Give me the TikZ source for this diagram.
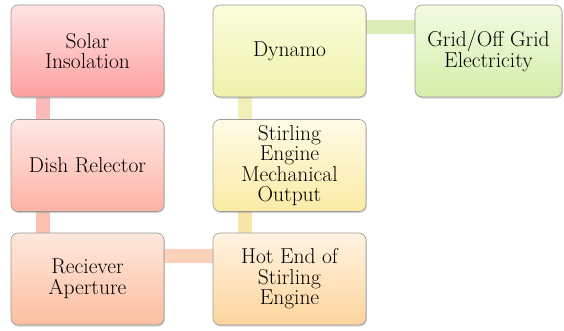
\documentclass[tikz,border=0pt]{standalone}
\usepackage{xcolor}
\usepackage{tikz}
\usetikzlibrary{shadows, backgrounds}
\definecolor{boxLine}{HTML}{9A9A9A}
\definecolor{solarTop}{HTML}{FFE4E4}
\definecolor{solarBot}{HTML}{FF9F9F}
\definecolor{dishTop}{HTML}{FFE8E4}
\definecolor{dishBot}{HTML}{FDB3A5}
\definecolor{recTop}{HTML}{FEE8DC}
\definecolor{recBot}{HTML}{FBBE9F}
\definecolor{hotTop}{HTML}{FFF3E0}
\definecolor{hotBot}{HTML}{FDD59C}
\definecolor{stirTop}{HTML}{FFFBE6}
\definecolor{stirBot}{HTML}{FAEBA5}
\definecolor{dynTop}{HTML}{FBFCDC}
\definecolor{dynBot}{HTML}{EEF2AA}
\definecolor{gridTop}{HTML}{F2FBE2}
\definecolor{gridBot}{HTML}{D5EEAA}

\begin{document}
\begin{tikzpicture}[
    stagebox/.style={draw=boxLine, line width=0.6pt, rounded corners=7pt,
        minimum width=153pt, minimum height=92pt, align=center,
        font=\fontsize{21.5}{20.5}\selectfont, text=black,
        drop shadow={opacity=0.35, shadow xshift=0.8pt, shadow yshift=-1.6pt}},
    link/.style={line width=14pt}
]
    \useasboundingbox (0,0) rectangle (564pt,331pt);
    % left column, top to bottom
    \node[stagebox, top color=solarTop, bottom color=solarBot] (solar) at (87.5pt,280pt) {Solar\\Insolation};
    \node[stagebox, top color=dishTop, bottom color=dishBot] (dish) at (87.5pt,165.5pt) {Dish Relector};
    \node[stagebox, top color=recTop, bottom color=recBot] (rec) at (87.5pt,52pt) {Reciever\\Aperture};
    % middle column, bottom to top
    \node[stagebox, top color=hotTop, bottom color=hotBot] (hot) at (289.5pt,52pt) {Hot End of\\Stirling\\Engine};
    \node[stagebox, top color=stirTop, bottom color=stirBot] (stir) at (289.5pt,165.5pt) {Stirling\\Engine\\Mechanical\\Output};
    \node[stagebox, top color=dynTop, bottom color=dynBot] (dyn) at (289.5pt,280pt) {Dynamo};
    % last stage
    \node[stagebox, minimum width=147pt, top color=gridTop, bottom color=gridBot] (grid) at (488.5pt,280pt) {Grid/Off Grid\\Electricity};
    % links behind the boxes
    \begin{scope}[on background layer]
        \draw[link, color={rgb,255:red,251;green,185;blue,185}] ([xshift=32pt]solar.south west) -- ([xshift=32pt]dish.north west);
        \draw[link, color={rgb,255:red,251;green,192;blue,176}] ([xshift=32pt]dish.south west) -- ([xshift=32pt]rec.north west);
        \draw[link, color={rgb,255:red,251;green,211;blue,186}] ([yshift=-23pt]rec.north east) -- ([yshift=-23pt]hot.north west);
        \draw[link, color={rgb,255:red,248;green,229;blue,168}] ([xshift=32pt]hot.north west) -- ([xshift=32pt]stir.south west);
        \draw[link, color={rgb,255:red,240;green,240;blue,184}] ([xshift=32pt]stir.north west) -- ([xshift=32pt]dyn.south west);
        \draw[link, color={rgb,255:red,220;green,237;blue,186}] ([yshift=-22pt]dyn.north east) -- ([yshift=-22pt]grid.north west);
    \end{scope}
\end{tikzpicture}
\end{document}
